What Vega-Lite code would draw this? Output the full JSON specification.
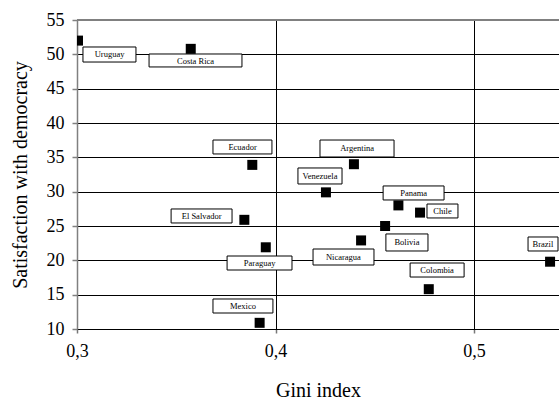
{
  "$schema": "https://vega.github.io/schema/vega-lite/v6.json",
  "width": 482,
  "height": 309,
  "autosize": "none",
  "padding": {"left": 77, "top": 20, "right": 0, "bottom": 74},
  "background": "white",
  "config": {
    "view": {"stroke": null},
    "font": "Liberation Serif",
    "axisX": {
      "titleFont": "Liberation Serif", "titleFontSize": 20, "titleFontWeight": "normal", "titleColor": "black",
      "titlePadding": 20,
      "labelFont": "Liberation Serif", "labelFontSize": 18, "labelColor": "black", "labelPadding": 9,
      "labelFlush": false, "labelOverlap": false,
      "grid": true, "gridColor": "black", "gridWidth": 1, "gridOpacity": 1,
      "domain": true, "domainColor": "black", "domainWidth": 1,
      "ticks": true, "tickColor": "#777", "tickSize": 4, "tickWidth": 1.5
    },
    "axisY": {
      "values": [10, 15, 20, 25, 30, 35, 40, 45, 50, 55],
      "titleFont": "Liberation Serif", "titleFontSize": 20, "titleFontWeight": "normal", "titleColor": "black",
      "titlePadding": 16,
      "labelFont": "Liberation Serif", "labelFontSize": 18, "labelColor": "black", "labelPadding": 8,
      "labelFlush": false, "labelOverlap": false,
      "grid": true, "gridColor": "black", "gridWidth": 1, "gridOpacity": 1,
      "domain": true, "domainColor": "#808080", "domainWidth": 1.5,
      "ticks": true, "tickColor": "#808080", "tickSize": 5, "tickWidth": 1.5
    }
  },
  "data": {
    "values": [
      {"country": "Uruguay", "gini": 0.3005, "sat": 52, "bx1": 0.3030, "bx2": 0.3297, "by1": 51.07, "by2": 48.88, "lx": 0.3164, "ly": 49.98},
      {"country": "Costa Rica", "gini": 0.3573, "sat": 50.8, "bx1": 0.3363, "bx2": 0.3831, "by1": 50.05, "by2": 48.16, "lx": 0.3597, "ly": 49.1},
      {"country": "Ecuador", "gini": 0.3883, "sat": 33.9, "bx1": 0.3685, "bx2": 0.3982, "by1": 37.52, "by2": 35.49, "lx": 0.3834, "ly": 36.5},
      {"country": "Argentina", "gini": 0.4395, "sat": 34, "bx1": 0.4224, "bx2": 0.4597, "by1": 37.52, "by2": 35.05, "lx": 0.4411, "ly": 36.3},
      {"country": "Venezuela", "gini": 0.4254, "sat": 29.9, "bx1": 0.4113, "bx2": 0.4335, "by1": 33.45, "by2": 31.12, "lx": 0.4224, "ly": 32.3},
      {"country": "Panama", "gini": 0.4619, "sat": 28, "bx1": 0.4542, "bx2": 0.4849, "by1": 30.83, "by2": 28.79, "lx": 0.4696, "ly": 29.8},
      {"country": "El Salvador", "gini": 0.3843, "sat": 25.9, "bx1": 0.3474, "bx2": 0.3781, "by1": 27.48, "by2": 25.44, "lx": 0.3628, "ly": 26.46},
      {"country": "Paraguay", "gini": 0.3951, "sat": 21.9, "bx1": 0.3756, "bx2": 0.4083, "by1": 20.63, "by2": 18.59, "lx": 0.392, "ly": 19.6},
      {"country": "Mexico", "gini": 0.392, "sat": 10.9, "bx1": 0.3685, "bx2": 0.3987, "by1": 14.37, "by2": 12.33, "lx": 0.3836, "ly": 13.35},
      {"country": "Chile", "gini": 0.4728, "sat": 26.95, "bx1": 0.4763, "bx2": 0.4919, "by1": 28.2, "by2": 26.17, "lx": 0.4841, "ly": 27.18},
      {"country": "Bolivia", "gini": 0.4552, "sat": 25, "bx1": 0.4556, "bx2": 0.4768, "by1": 23.84, "by2": 21.36, "lx": 0.4662, "ly": 22.6},
      {"country": "Nicaragua", "gini": 0.4431, "sat": 22.9, "bx1": 0.4189, "bx2": 0.4496, "by1": 21.65, "by2": 19.32, "lx": 0.4342, "ly": 20.48},
      {"country": "Colombia", "gini": 0.4772, "sat": 15.8, "bx1": 0.4678, "bx2": 0.495, "by1": 19.61, "by2": 17.57, "lx": 0.4814, "ly": 18.59},
      {"country": "Brazil", "gini": 0.5383, "sat": 19.8, "bx1": 0.5272, "bx2": 0.5423, "by1": 23.4, "by2": 21.36, "lx": 0.5347, "ly": 22.38}
    ]
  },
  "layer": [
    {
      "mark": {"type": "point", "opacity": 0},
      "encoding": {
        "x": {
          "field": "gini", "type": "quantitative",
          "scale": {"domain": [0.3, 0.5428], "nice": false, "zero": false},
          "axis": {
            "title": "Gini index",
            "values": [0.3, 0.4, 0.5],
            "labelExpr": "replace(format(datum.value, '.1f'), '.', ',')"
          }
        },
        "y": {
          "field": "sat", "type": "quantitative",
          "scale": {"domain": [10, 55], "nice": false, "zero": false},
          "axis": {"title": "Satisfaction with democracy"}
        }
      }
    },
    {
      "mark": {"type": "rule", "color": "#808080", "strokeWidth": 1.5},
      "encoding": {"y": {"datum": 55}}
    },
    {
      "mark": {"type": "rect", "fill": "white", "stroke": "black", "strokeWidth": 1, "clip": true},
      "encoding": {
        "x": {"field": "bx1", "type": "quantitative"},
        "x2": {"field": "bx2"},
        "y": {"field": "by1", "type": "quantitative"},
        "y2": {"field": "by2"}
      }
    },
    {
      "mark": {"type": "text", "font": "Liberation Serif", "fontSize": 8.5, "fill": "black", "align": "center", "baseline": "middle", "clip": true},
      "encoding": {
        "x": {"field": "lx", "type": "quantitative"},
        "y": {"field": "ly", "type": "quantitative"},
        "text": {"field": "country"}
      }
    },
    {
      "mark": {"type": "square", "filled": true, "color": "black", "size": 100, "opacity": 1, "clip": true},
      "encoding": {
        "x": {"field": "gini", "type": "quantitative"},
        "y": {"field": "sat", "type": "quantitative"}
      }
    }
  ]
}
